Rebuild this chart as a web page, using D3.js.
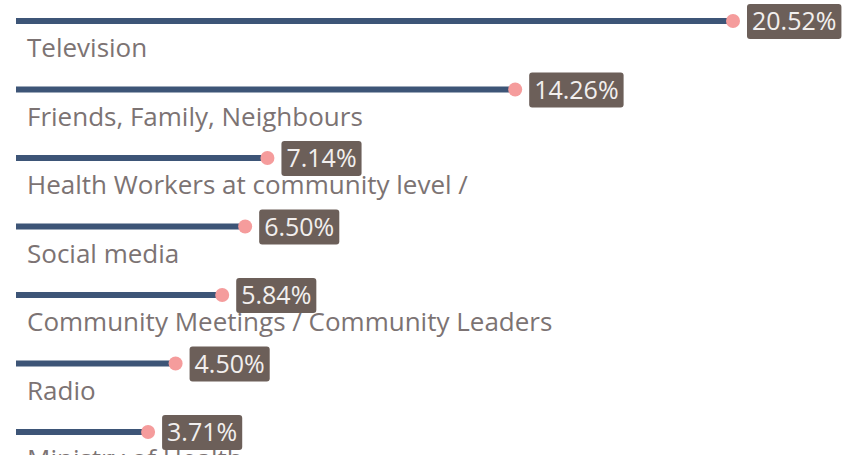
<!DOCTYPE html>
<html>
<head>
<meta charset="utf-8">
<script src="https://cdn.jsdelivr.net/npm/d3@7"></script>
<style>
  body { margin: 0; background: #fff; }
  svg { display: block; font-family: 'Open Sans', sans-serif; }
</style>
</head>
<body>
<svg id="chart"></svg>
<script>
const categories = [
  'Television',
  'Friends, Family, Neighbours',
  'Health Workers at community level /',
  'Social media',
  'Community Meetings / Community Leaders',
  'Radio',
  'Ministry of Health',
];
const values = [20.52, 14.26, 7.14, 6.50, 5.84, 4.50, 3.71];

const width = 853;
const height = 455;

const svg = d3.select('#chart')
  .attr('width', width)
  .attr('height', height);

const x = d3.scaleLinear()
  .domain([0, d3.max(values)])
  .range([19, 733]);

const y = d3.scalePoint()
  .domain(categories)
  .range([21, 432]);

const rows = svg.selectAll('g.row')
  .data(categories)
  .enter()
  .append('g')
  .attr('class', 'row')
  .attr('transform', d => `translate(0,${y(d)})`);

rows.append('text')
  .attr('x', 27)
  .attr('y', 36)
  .attr('fill', '#7c7373')
  .style('font-size', '26px')
  .text(d => d);

rows.append('line')
  .attr('x1', x(0))
  .attr('x2', (d, i) => x(values[i]))
  .attr('stroke', '#3d5577')
  .attr('stroke-width', 6)
  .attr('stroke-linecap', 'square');

rows.append('circle')
  .attr('cx', (d, i) => x(values[i]))
  .attr('r', 7)
  .attr('fill', '#f59c9c');

// value tags
rows.each(function (d, i) {
  const g = d3.select(this);
  const tag = g.append('g');
  const rect = tag.append('rect')
    .attr('fill', '#6c5f59')
    .attr('rx', 3);
  const t = tag.append('text')
    .attr('x', x(values[i]) + 19)
    .attr('y', 9)
    .attr('fill', '#f2efee')
    .style('font-size', '25px')
    .text(`${values[i].toFixed(2)}%`);
  const bb = t.node().getBBox();
  rect.attr('x', bb.x - 5)
    .attr('y', -17)
    .attr('width', bb.width + 10)
    .attr('height', 35);
});
</script>
</body>
</html>
